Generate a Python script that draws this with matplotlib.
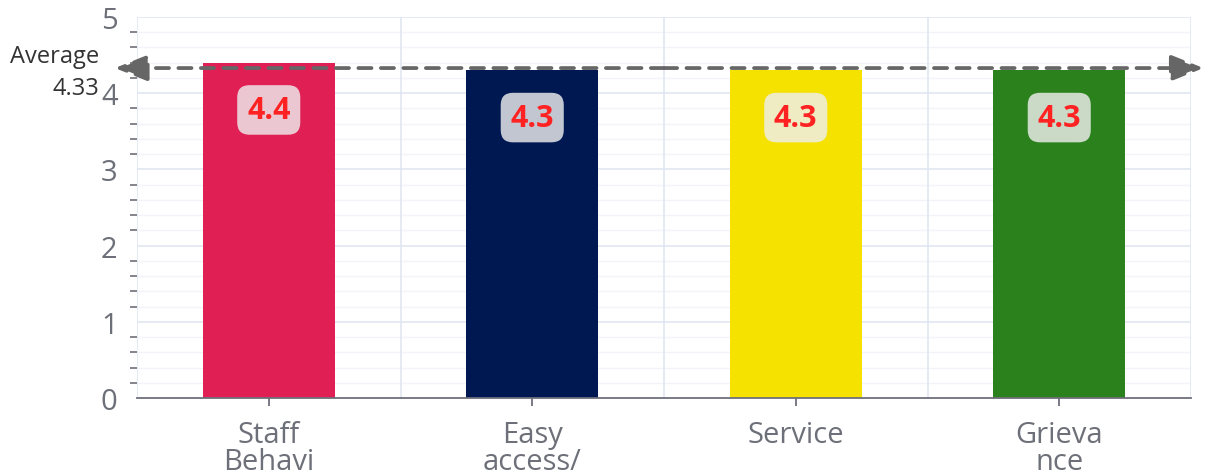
import matplotlib.pyplot as plt
from matplotlib.ticker import MultipleLocator

categories = ["Staff\nBehavi\nour", "Easy\naccess/\navailability", "Service", "Grieva\nnce\nredressal"]
scores = [4.4, 4.3, 4.3, 4.3]
average = 4.33
bar_colors = ["#e01f54", "#001852", "#f5e200", "#2b821d"]

plt.rcParams['font.family'] = ['Open Sans', 'DejaVu Sans']
grey = "#6e7079"

fig = plt.figure(figsize=(12.05, 4.77), dpi=100)
ax = fig.add_axes([137 / 1205, 78 / 477, 1054 / 1205, 381 / 477])

x = list(range(len(categories)))
ax.bar(x, scores, width=0.5, color=bar_colors, zorder=3)

ax.set_xlim(-0.5, len(categories) - 0.5)
ax.set_ylim(0, 5)

# grid: minor every 0.2, major every 1, vertical lines between categories
ax.yaxis.set_major_locator(MultipleLocator(1))
ax.yaxis.set_minor_locator(MultipleLocator(0.2))
for yy in range(1, 6):
    ax.axhline(yy, color="#e0e6f1", lw=1.2, zorder=1)
for i in range(1, 26):
    if i % 5:
        ax.axhline(i * 0.2, color="#f2f4f9", lw=1, zorder=0.5)
for xx in [-0.5, 0.5, 1.5, 2.5, 3.5]:
    ax.axvline(xx, color="#e0e6f1", lw=1.2, zorder=1)

for s in ["top", "right", "left"]:
    ax.spines[s].set_visible(False)
ax.spines["bottom"].set_color(grey)
ax.spines["bottom"].set_linewidth(1.3)
ax.spines["bottom"].set_zorder(4)

# labels are long and run off the bottom edge, like in the original
ax.set_xticks(x)
ax.set_xticklabels(categories, fontsize=21, color=grey, linespacing=0.92, va="top")
ax.tick_params(axis="x", length=6, width=1.3, color=grey, pad=10)
ax.tick_params(axis="y", which="major", length=0, pad=14, labelsize=21, labelcolor=grey)
ax.tick_params(axis="y", which="minor", length=5, width=1.2, color=grey, pad=6)

# value labels
for xi, v in zip(x, scores):
    ax.annotate(f"{v:.1f}", (xi, v), xytext=(0, -34), textcoords="offset points",
                ha="center", va="center", fontsize=22, fontweight="bold", color="#ff2222",
                bbox=dict(boxstyle="round,pad=0.32,rounding_size=0.4", fc="#eeeeee", ec="none", alpha=0.82),
                zorder=5)

# average line with arrows on both ends
trans = ax.get_yaxis_transform()
arrow = dict(arrowstyle="-|>,head_length=2.0,head_width=0.8", color="#666666",
             lw=2.7, linestyle=(0, (3.5, 2.5)), shrinkA=0, shrinkB=0)
ax.annotate("", xy=(-0.021, average), xytext=(0.5, average), xycoords=trans, textcoords=trans,
            arrowprops=arrow, annotation_clip=False, zorder=6)
ax.annotate("", xy=(1.012, average), xytext=(0.5, average), xycoords=trans, textcoords=trans,
            arrowprops=arrow, annotation_clip=False, zorder=6)
ax.annotate(f"Average\n{average}", (-0.036, average), xycoords=trans, xytext=(0, -3),
            textcoords="offset points", ha="right", va="center",
            fontsize=17, color="#333333", linespacing=1.45, annotation_clip=False)

fig.savefig("out.png", dpi=100)
